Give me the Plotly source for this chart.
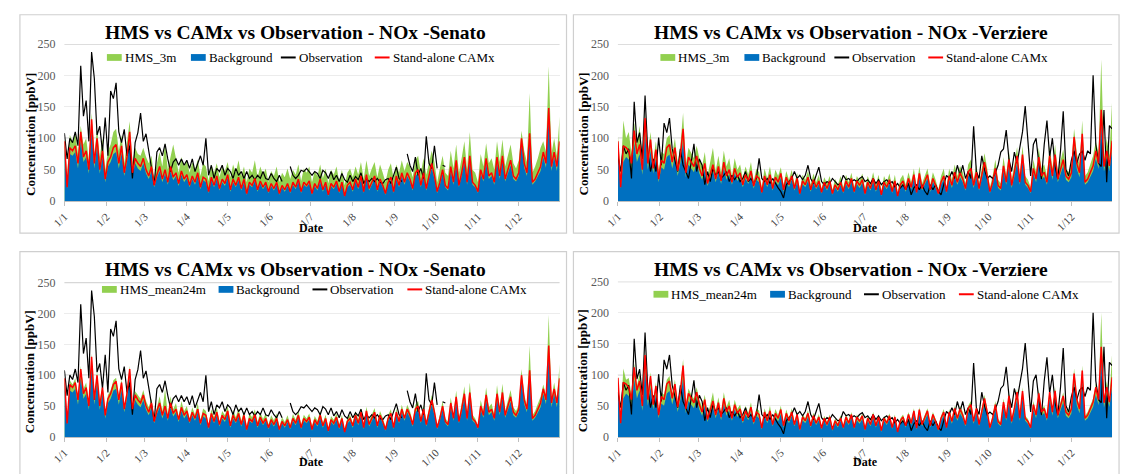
import pandas as pd
import plotly.graph_objects as go

# ---------------------------------------------------------------------------
# Daily NOx concentrations [ppbV], one value every second day of the year
# (one row per month, Jan..Dec).
# ---------------------------------------------------------------------------
dates = pd.date_range("2015-01-01", periods=183, freq="2D")
month_ticks = ["1/1", "1/2", "1/3", "1/4", "1/5", "1/6",
               "1/7", "1/8", "1/9", "1/10", "1/11", "1/12"]

# --- Senato station -------------------------------------------------------
obs_sen = [
    108, 67, 100, 93, 110, 88, 215, 135, 160, 95, 237, 195, 105, 119, 78, 133,
    72, 175, 163, 188, 110, 93, 114, 72, 88, 36, 93, 109, 140, 95,
    107, 78, 47, 26, 78, 85, 72, 91, 67, 47, 62, 67, 57, 67, 57,
    65, 52, 67, 47, 60, 72, 57, 100, 41, 57, 36, 52, 47, 57, 41,
    52, 47, 36, 52, 41, 47, 36, 47, 36, 41, 34, 41, 36, 47, 36, 34,
    44, 36, 31, 41, 31, None, None, 55, 41, 36, 41, 49, 47, 52, 47,
    41, 47, 44, 36, 49, 45, 36, 47, 34, 41, 31, 44, 34, 30, 41,
    31, 39, 34, 45, 28, 36, 31, 36, 31, 36, 30, 28, 34, 36, 28, 40,
    54, 36, 31, None, 75, 57, 47, 70, 41, 52, 36, 103, 60, 52, 88,
    52, None, 57, 55, None, None, None, None, None, None, None, None, None, None, None,
    None, None, None, None, None, None, None, None, None, None, None, None, None, None, None,
    None, None, None, None, None, None, None, None, None, None, None, None, None, None, None, None,
]
camx_sen = [
    95, 22, 85, 80, 88, 60, 110, 70, 80, 50, 130, 60, 100, 50, 80, 35,
    62, 70, 85, 90, 60, 88, 45, 70, 110, 45, 68, 60, 55, 68,
    50, 40, 55, 25, 42, 55, 35, 50, 30, 55, 38, 45, 28, 48, 35,
    42, 25, 40, 30, 45, 22, 38, 35, 15, 38, 25, 40, 20, 35, 28,
    42, 18, 35, 25, 38, 20, 35, 12, 30, 25, 36, 18, 32, 22, 30, 15,
    28, 20, 30, 12, 25, 18, 28, 15, 30, 22, 35, 15, 30, 25, 32,
    12, 28, 20, 35, 18, 30, 10, 28, 22, 32, 15, 30, 8, 25, 30,
    18, 35, 22, 40, 15, 42, 20, 30, 40, 18, 35, 25, 12, 30, 38, 15,
    40, 25, 45, 30, 45, 35, 20, 45, 50, 25, 45, 20, 40, 60, 40,
    15, 30, 50, 25, 20, 55, 30, 65, 25, 45, 70, 30, 72, 30, 25,
    15, 50, 35, 68, 40, 45, 30, 70, 40, 72, 35, 50, 65, 40, 35,
    45, 100, 60, 45, 108, 30, 35, 45, 55, 78, 60, 148, 55, 78, 55, 95,
]
bg_sen = [
    88, 20, 75, 72, 78, 52, 95, 62, 70, 44, 112, 52, 88, 44, 70, 30,
    55, 62, 75, 78, 52, 76, 40, 62, 96, 40, 60, 52, 48, 60,
    44, 35, 48, 22, 37, 48, 30, 44, 26, 48, 33, 40, 24, 42, 30,
    37, 22, 35, 26, 40, 19, 33, 30, 13, 33, 22, 35, 17, 30, 24,
    37, 15, 30, 22, 33, 17, 30, 10, 26, 22, 32, 15, 28, 19, 26, 13,
    24, 17, 26, 10, 22, 15, 24, 13, 26, 19, 31, 13, 26, 22, 28,
    10, 24, 17, 31, 15, 26, 8, 24, 19, 28, 13, 26, 7, 22, 26,
    15, 31, 19, 35, 13, 37, 17, 26, 35, 15, 31, 22, 10, 26, 33, 13,
    35, 22, 40, 26, 40, 31, 17, 40, 44, 22, 40, 17, 35, 53, 35,
    13, 26, 44, 22, 17, 48, 26, 57, 22, 40, 62, 26, 64, 26, 22,
    13, 44, 31, 60, 35, 40, 26, 62, 35, 64, 31, 44, 57, 35, 31,
    40, 90, 53, 40, 97, 26, 31, 40, 48, 70, 53, 135, 48, 70, 48, 85,
]
hms3_sen = [
    100, 40, 105, 95, 110, 75, 120, 90, 100, 65, 140, 75, 115, 70, 100, 50,
    80, 90, 110, 115, 80, 105, 60, 90, 127, 60, 85, 75, 72, 85,
    70, 60, 72, 35, 60, 78, 55, 92, 50, 70, 90, 68, 45, 70, 55,
    65, 45, 62, 50, 66, 40, 60, 55, 32, 58, 45, 60, 38, 55, 48,
    62, 38, 58, 45, 65, 40, 55, 30, 52, 45, 65, 38, 55, 42, 52, 30,
    48, 40, 55, 30, 45, 38, 52, 35, 50, 42, 58, 32, 52, 45, 55,
    30, 48, 40, 58, 36, 52, 28, 50, 42, 55, 32, 50, 25, 45, 52,
    38, 55, 42, 62, 35, 65, 40, 52, 62, 38, 58, 45, 30, 50, 60, 35,
    58, 45, 65, 48, 62, 55, 38, 65, 72, 45, 68, 42, 60, 80, 62,
    30, 52, 72, 45, 40, 80, 52, 90, 45, 68, 95, 50, 110, 50, 45,
    30, 75, 55, 92, 60, 68, 50, 95, 62, 98, 55, 75, 90, 60, 52,
    65, 112, 80, 62, 172, 45, 55, 68, 85, 95, 78, 215, 75, 100, 72, 135,
]
hms24_sen = [
    98, 28, 92, 85, 95, 65, 115, 78, 88, 55, 135, 65, 106, 56, 86, 40,
    68, 76, 92, 96, 66, 94, 50, 76, 115, 50, 74, 68, 62, 76,
    58, 48, 62, 30, 50, 66, 42, 78, 36, 66, 45, 55, 33, 58, 42,
    50, 30, 48, 36, 55, 27, 46, 42, 20, 45, 32, 48, 25, 42, 35,
    50, 24, 44, 32, 46, 26, 42, 17, 38, 32, 45, 24, 40, 29, 38, 20,
    35, 27, 38, 17, 32, 24, 35, 20, 37, 28, 42, 20, 36, 30, 38,
    17, 34, 26, 42, 23, 36, 14, 34, 28, 38, 20, 36, 12, 31, 36,
    23, 42, 28, 47, 20, 49, 26, 36, 47, 23, 42, 31, 16, 36, 45, 20,
    46, 30, 52, 35, 52, 42, 25, 52, 58, 30, 52, 25, 46, 68, 46,
    18, 36, 58, 30, 25, 64, 36, 75, 30, 54, 82, 36, 88, 36, 30,
    18, 60, 42, 80, 48, 54, 36, 84, 48, 86, 42, 60, 76, 48, 42,
    52, 110, 68, 52, 148, 35, 42, 54, 65, 85, 68, 198, 62, 88, 62, 118,
]

# --- Verziere station -----------------------------------------------------
obs_ver = [
    72, 47, 88, 75, 83, 36, 158, 93, 109, 67, 168, 78, 47, 67, 47, 101,
    57, 124, 109, 132, 83, 67, 47, 83, 57, 47, 36, 62, 91, 47,
    67, 57, 26, 47, 31, 52, 41, 47, 36, 41, 47, 31, 41, 34, 41,
    31, 36, 47, 31, 36, 28, 36, 68, 36, 31, 36, 28, 36, 28, 21,
    15, 5, 26, 31, 36, 47, 36, 41, 34, 41, 57, 36, 28, 41, 54, 31,
    26, 31, 28, 36, 30, 26, 28, 41, 34, 36, 31, 34, 31, 36, 39,
    31, 34, 28, 36, 28, 34, 26, 31, 34, 28, 31, 23, 28, 21, 26,
    18, 28, 10, 21, 26, 18, 26, 16, 10, 26, 18, 26, 16, 10, 26, 41,
    36, 47, 36, 57, 41, 57, 36, 47, 36, 119, 47, 36, 72, 50, 36,
    40, 36, 45, 57, 78, 83, 113, 67, 47, 78, 60, 85, 110, 151, 95,
    40, 90, 100, 60, 35, 90, 128, 70, 100, 55, 35, 80, 143, 50, 40,
    65, 80, 60, 75, 80, 65, 80, 75, 200, 90, 60, 55, 145, 30, 120, 115,
]
camx_ver = [
    95, 22, 88, 85, 80, 60, 112, 75, 90, 50, 132, 60, 98, 52, 82, 35,
    65, 60, 85, 90, 62, 85, 48, 72, 115, 45, 70, 62, 55, 72,
    52, 40, 60, 28, 45, 58, 35, 55, 32, 62, 40, 50, 30, 52, 38,
    45, 26, 42, 32, 48, 24, 40, 36, 14, 40, 26, 42, 20, 38, 30,
    44, 18, 38, 26, 40, 20, 36, 12, 32, 26, 38, 18, 34, 22, 32, 14,
    30, 20, 32, 12, 26, 18, 30, 15, 32, 22, 36, 15, 32, 25, 34,
    12, 30, 20, 36, 18, 32, 10, 30, 22, 34, 15, 32, 8, 26, 32,
    18, 36, 22, 42, 14, 44, 20, 30, 42, 18, 36, 25, 12, 30, 40, 15,
    40, 25, 46, 30, 45, 35, 20, 46, 52, 25, 46, 20, 40, 62, 40,
    15, 30, 52, 25, 20, 56, 30, 66, 25, 46, 72, 30, 74, 30, 25,
    15, 52, 35, 70, 40, 46, 30, 72, 40, 74, 35, 52, 66, 40, 35,
    45, 102, 60, 45, 107, 30, 35, 45, 56, 80, 60, 145, 55, 80, 56, 96,
]
bg_ver = [
    80, 20, 62, 70, 66, 48, 92, 62, 75, 42, 108, 50, 80, 44, 68, 30,
    54, 50, 70, 74, 52, 70, 40, 60, 95, 38, 58, 52, 46, 60,
    44, 34, 50, 24, 38, 48, 30, 46, 27, 52, 34, 42, 26, 44, 32,
    38, 22, 36, 27, 40, 20, 34, 30, 12, 34, 22, 36, 17, 32, 25,
    37, 15, 32, 22, 34, 17, 30, 10, 27, 22, 32, 15, 29, 19, 27, 12,
    26, 17, 27, 10, 22, 15, 26, 13, 27, 19, 31, 13, 27, 21, 29,
    10, 26, 17, 31, 15, 27, 8, 26, 19, 29, 13, 27, 7, 22, 27,
    15, 31, 19, 36, 12, 37, 17, 26, 36, 15, 31, 21, 10, 26, 34, 13,
    34, 21, 39, 26, 38, 30, 17, 39, 44, 21, 39, 17, 34, 53, 34,
    13, 26, 44, 21, 17, 48, 26, 56, 21, 39, 61, 26, 63, 26, 21,
    13, 44, 30, 60, 34, 39, 26, 61, 34, 63, 30, 44, 56, 34, 30,
    38, 87, 51, 38, 91, 26, 30, 38, 48, 68, 51, 123, 47, 68, 48, 82,
]
hms3_ver = [
    105, 40, 128, 100, 110, 75, 125, 90, 120, 65, 140, 75, 110, 65, 95, 48,
    78, 75, 100, 105, 75, 100, 60, 88, 140, 58, 85, 75, 68, 88,
    68, 55, 78, 40, 60, 85, 48, 72, 45, 80, 55, 68, 40, 68, 50,
    58, 36, 55, 42, 62, 32, 52, 46, 22, 52, 36, 55, 28, 50, 40,
    54, 26, 48, 34, 50, 28, 45, 18, 42, 34, 48, 26, 44, 30, 42, 20,
    38, 28, 40, 18, 35, 26, 40, 22, 42, 30, 45, 22, 40, 32, 44,
    20, 40, 28, 46, 26, 42, 16, 40, 30, 44, 22, 42, 14, 35, 42,
    26, 46, 30, 52, 22, 55, 28, 40, 52, 26, 46, 34, 18, 40, 52, 22,
    52, 34, 58, 40, 56, 46, 28, 58, 66, 34, 58, 28, 52, 76, 52,
    22, 40, 66, 34, 28, 70, 40, 80, 34, 58, 86, 40, 88, 40, 34,
    22, 66, 46, 85, 52, 58, 40, 88, 52, 90, 46, 66, 82, 52, 46,
    58, 115, 76, 58, 128, 40, 46, 58, 72, 95, 76, 225, 70, 100, 72, 160,
]
hms24_ver = [
    100, 30, 110, 92, 95, 68, 118, 82, 102, 58, 136, 68, 104, 58, 88, 42,
    72, 68, 92, 98, 70, 92, 55, 80, 125, 52, 78, 68, 62, 80,
    60, 48, 68, 34, 52, 72, 42, 64, 38, 72, 48, 60, 35, 60, 45,
    52, 32, 50, 38, 56, 28, 46, 42, 18, 46, 32, 50, 24, 45, 35,
    50, 22, 44, 30, 46, 24, 40, 15, 37, 30, 43, 22, 39, 26, 37, 17,
    34, 24, 36, 15, 30, 22, 35, 18, 37, 26, 40, 18, 36, 28, 38,
    15, 34, 24, 40, 22, 36, 12, 34, 26, 38, 18, 36, 10, 30, 36,
    22, 40, 26, 46, 17, 48, 24, 35, 46, 22, 40, 29, 15, 34, 45, 18,
    45, 29, 50, 34, 50, 40, 24, 50, 58, 29, 50, 24, 45, 68, 45,
    18, 34, 58, 29, 24, 62, 34, 72, 29, 50, 78, 34, 80, 34, 29,
    18, 58, 40, 76, 45, 50, 34, 78, 45, 80, 40, 58, 72, 45, 40,
    50, 110, 66, 50, 115, 34, 40, 50, 62, 86, 66, 200, 60, 90, 62, 135,
]

for series in (obs_sen, camx_sen, bg_sen, hms3_sen, hms24_sen,
               obs_ver, camx_ver, bg_ver, hms3_ver, hms24_ver):
    assert len(series) == len(dates)

# ---------------------------------------------------------------------------
# Page geometry (pixels) and styling
# ---------------------------------------------------------------------------
W, H = 1122, 474
SERIF = "Liberation Serif, Times New Roman, serif"
GREEN, BLUE, RED, BLACK = "#92D050", "#0070C0", "#FF0000", "#000000"


def fx(p):
    return p / W


def fy(p):
    return 1 - p / H


panels = [
    dict(station="Senato", hms_name="HMS_3m", hms=hms3_sen, bg=bg_sen,
         obs=obs_sen, camx=camx_sen, box=(7, 8, 560, 233),
         plot=(52, 38, 553, 200), title=(286, 26), legend=(95, 52),
         key_steps=(0, 85, 176, 271), date_y=228, ytitle_x=17),
    dict(station="Verziere", hms_name="HMS_3m", hms=hms3_ver, bg=bg_ver,
         obs=obs_ver, camx=camx_ver, box=(567, 8, 1119, 233),
         plot=(612, 38, 1112, 200), title=(848, 26), legend=(655, 52),
         key_steps=(0, 85, 176, 271), date_y=228, ytitle_x=577),
    dict(station="Senato", hms_name="HMS_mean24m", hms=hms24_sen, bg=bg_sen,
         obs=obs_sen, camx=camx_sen, box=(7, 252, 560, 490),
         plot=(52, 284, 553, 443), title=(286, 270), legend=(90, 291),
         key_steps=(0, 118, 213, 309), date_y=469, ytitle_x=17),
    dict(station="Verziere", hms_name="HMS_mean24m", hms=hms24_ver, bg=bg_ver,
         obs=obs_ver, camx=camx_ver, box=(567, 252, 1119, 490),
         plot=(612, 283, 1112, 443), title=(848, 271), legend=(648, 296),
         key_steps=(0, 118, 213, 309), date_y=469, ytitle_x=577),
]

fig = go.Figure()
layout = dict(
    width=W, height=H, margin=dict(l=0, r=0, t=0, b=0),
    paper_bgcolor="white", plot_bgcolor="white",
    font=dict(family=SERIF, color="#000000"),
    showlegend=False, hovermode=False,
)
shapes, annotations = [], []

for k, p in enumerate(panels, start=1):
    suffix = "" if k == 1 else str(k)
    xa, ya = f"x{suffix}", f"y{suffix}"
    common = dict(xaxis=xa, yaxis=ya, x=dates)

    fig.add_trace(go.Scatter(y=p["hms"], name=p["hms_name"], mode="lines",
                             fill="tozeroy", fillcolor=GREEN,
                             line=dict(width=0, color=GREEN), **common))
    fig.add_trace(go.Scatter(y=p["bg"], name="Background", mode="lines",
                             fill="tozeroy", fillcolor=BLUE,
                             line=dict(width=0, color=BLUE), **common))
    fig.add_trace(go.Scatter(y=p["obs"], name="Observation", mode="lines",
                             line=dict(width=1.2, color=BLACK), **common))
    fig.add_trace(go.Scatter(y=p["camx"], name="Stand-alone CAMx",
                             mode="lines",
                             line=dict(width=1.5, color=RED), **common))

    x0, y0, x1, y1 = p["plot"]
    layout[f"xaxis{suffix}"] = dict(
        domain=[fx(x0), fx(x1)], anchor=ya,
        range=[dates[0], pd.Timestamp("2015-12-31")],
        tickmode="array",
        tickvals=pd.date_range("2015-01-01", periods=12, freq="MS"),
        ticktext=month_ticks, tickangle=-45,
        tickfont=dict(family=SERIF, size=11, color="#404040"),
        showline=True, linecolor="#bfbfbf", linewidth=1,
        ticks="outside", ticklen=4, tickcolor="#bfbfbf",
        showgrid=False, zeroline=False,
    )
    layout[f"yaxis{suffix}"] = dict(
        domain=[fy(y1), fy(y0)], anchor=xa,
        range=[0, 250], tickmode="linear", tick0=0, dtick=50,
        tickfont=dict(family=SERIF, size=12, color="#595959"),
        showgrid=True, gridcolor="#ececec", gridwidth=1,
        zeroline=False, showline=False, ticks="",
        ticklabelstandoff=8,
    )

    # stronger reference lines at 100 and 250 ppbV
    for level in (100, 250):
        shapes.append(dict(type="line", xref=f"{xa} domain", yref=ya,
                           x0=0, x1=1, y0=level, y1=level, layer="below",
                           line=dict(color="#a6a6a6", width=1)))

    # panel frame
    bx0, by0, bx1, by1 = p["box"]
    shapes.append(dict(type="rect", xref="paper", yref="paper",
                       x0=fx(bx0), x1=fx(bx1), y0=fy(by1), y1=fy(by0),
                       line=dict(color="#cfcfcf", width=1.2),
                       fillcolor="rgba(0,0,0,0)", layer="below"))

    tx, ty = p["title"]
    annotations.append(dict(
        text=f"<b>HMS vs CAMx vs Observation - NOx -{p['station']}</b>",
        xref="paper", yref="paper", x=fx(tx), y=fy(ty),
        xanchor="center", yanchor="middle", showarrow=False,
        font=dict(family=SERIF, size=19.5, color="#000000")))
    annotations.append(dict(
        text="<b>Date</b>", xref="paper", yref="paper",
        x=fx((x0 + x1) / 2), y=fy(p["date_y"]),
        xanchor="center", yanchor="middle", showarrow=False,
        font=dict(family=SERIF, size=12, color="#000000")))
    annotations.append(dict(
        text="<b>Concentration [ppbV]</b>", xref="paper", yref="paper",
        x=fx(p["ytitle_x"]), y=fy((y0 + y1) / 2 + 12), textangle=-90,
        xanchor="center", yanchor="middle", showarrow=False,
        font=dict(family=SERIF, size=13, color="#000000")))

    # legend key: swatch / line sample followed by the series name
    lx, ly = p["legend"]
    keys = [(p["hms_name"], "box", GREEN), ("Background", "box", BLUE),
            ("Observation", "line", BLACK), ("Stand-alone CAMx", "line", RED)]
    for (label, kind, color), step in zip(keys, p["key_steps"]):
        sx = lx + step
        if kind == "box":
            shapes.append(dict(type="rect", xref="paper", yref="paper",
                               x0=fx(sx), x1=fx(sx + 15),
                               y0=fy(ly + 3.5), y1=fy(ly - 3.5),
                               fillcolor=color, line=dict(width=0)))
        else:
            shapes.append(dict(type="line", xref="paper", yref="paper",
                               x0=fx(sx), x1=fx(sx + 15),
                               y0=fy(ly), y1=fy(ly),
                               line=dict(color=color, width=2)))
        annotations.append(dict(
            text=label, xref="paper", yref="paper",
            x=fx(sx + 16), y=fy(ly), xanchor="left", yanchor="middle",
            showarrow=False,
            font=dict(family=SERIF, size=13, color="#000000")))

layout["shapes"] = shapes
layout["annotations"] = annotations
fig.update_layout(**layout)

fig.write_html("out.html")
